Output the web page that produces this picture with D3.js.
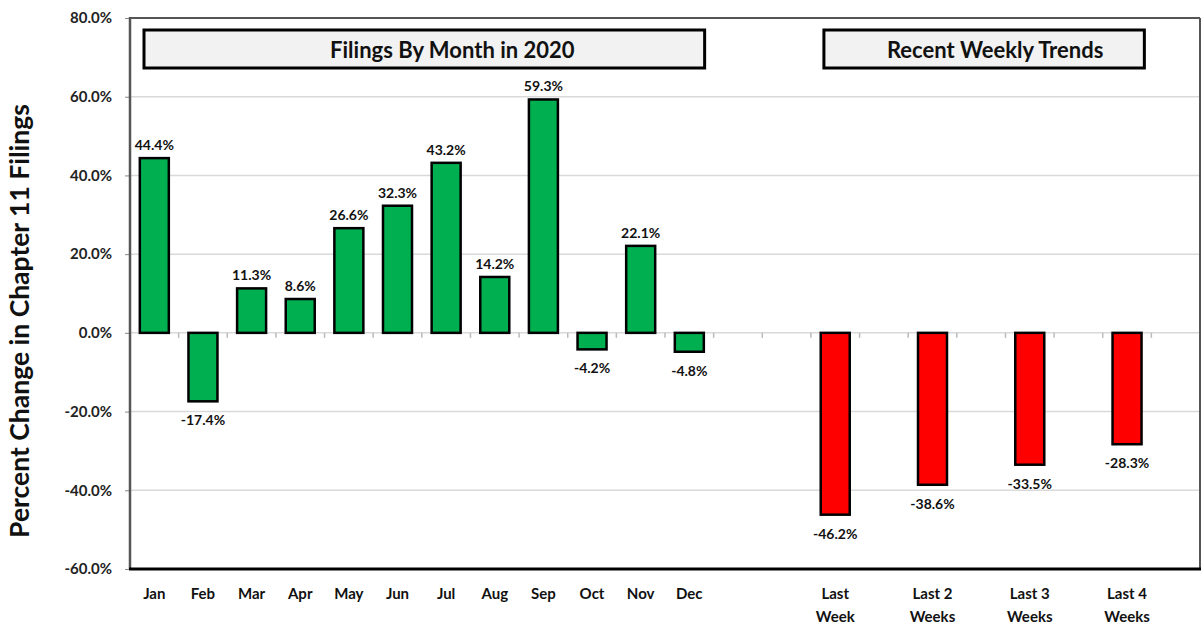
<!DOCTYPE html>
<html><head><meta charset="utf-8">
<script src="https://cdn.jsdelivr.net/npm/d3@7/dist/d3.min.js"></script>
<style>body{margin:0;background:#fff}svg{display:block;font-family:Lato,"Open Sans",sans-serif}</style>
</head><body>
<svg id="c" width="1201" height="629"></svg>
<script>
const monthCats = ["Jan","Feb","Mar","Apr","May","Jun","Jul","Aug","Sep","Oct","Nov","Dec"];
const monthVals = [44.4,-17.4,11.3,8.6,26.6,32.3,43.2,14.2,59.3,-4.2,22.1,-4.8];
const weekCats = ["Last Week","Last 2 Weeks","Last 3 Weeks","Last 4 Weeks"];
const weekVals = [-46.2,-38.6,-33.5,-28.3];
const yTicks = [-60,-40,-20,0,20,40,60,80];
const sectionTitles = ["Filings By Month in 2020","Recent Weekly Trends"];
const yTitle = "Percent Change in Chapter 11 Filings";

// category slots: 12 months, 2 gaps, weekly bars separated by gaps
const slots = [...monthCats, "_g1", "_g2", "Last Week", "_g3", "Last 2 Weeks", "_g4", "Last 3 Weeks", "_g5", "Last 4 Weeks", "_g6"];
const data = monthCats.map((c,i)=>({cat:c,v:monthVals[i],color:"#00B050"}))
  .concat(weekCats.map((c,i)=>({cat:c,v:weekVals[i],color:"#FF0000"})));

const svg = d3.select("#c");
const L=130, R=1200, T=18, B=569;
const x = d3.scaleBand().domain(slots).range([L,R]).paddingInner(0).paddingOuter(0);
const y = d3.scaleLinear().domain([-60,80]).range([B,T]);
const barW = 29;

// gridlines
svg.append("g").selectAll("line").data(yTicks).join("line")
  .attr("x1",L).attr("x2",R).attr("y1",d=>y(d)).attr("y2",d=>y(d))
  .attr("stroke","#d9d9d9").attr("stroke-width",1.5);

// y axis
const yAxis = d3.axisLeft(y).tickValues(yTicks).tickSize(5).tickPadding(13)
  .tickFormat(d=>d.toFixed(1)+"%");
const ga = svg.append("g").attr("transform",`translate(${L},0)`).call(yAxis);
ga.select(".domain").remove();
ga.selectAll(".tick line").attr("stroke","#888");
ga.selectAll("text").attr("font-size",15).attr("font-weight","bold").attr("fill","#222").attr("font-family","Lato");

// x category ticks at zero line
const bounds = slots.map(s=>x(s)).slice(1);
svg.append("g").selectAll("line").data(bounds).join("line")
  .attr("x1",d=>d).attr("x2",d=>d).attr("y1",y(0)).attr("y2",y(0)+5)
  .attr("stroke","#bbb").attr("stroke-width",1.5);

// bars
svg.append("g").selectAll("rect").data(data).join("rect")
  .attr("x",d=>x(d.cat)+x.bandwidth()/2-barW/2)
  .attr("width",barW)
  .attr("y",d=>y(Math.max(0,d.v)))
  .attr("height",d=>Math.abs(y(d.v)-y(0)))
  .attr("fill",d=>d.color).attr("stroke","#000").attr("stroke-width",2.5);

// data labels
svg.append("g").selectAll("text").data(data).join("text")
  .attr("x",d=>x(d.cat)+x.bandwidth()/2)
  .attr("y",d=>d.v>=0? y(d.v)-8 : y(d.v)+24)
  .attr("text-anchor","middle").attr("font-size",14).attr("font-weight","bold").attr("fill","#111")
  .text(d=>d.v.toFixed(1)+"%");

// frame
svg.append("line").attr("x1",L).attr("x2",R).attr("y1",T).attr("y2",T).attr("stroke","#555").attr("stroke-width",2);
svg.append("line").attr("x1",R).attr("x2",R).attr("y1",T).attr("y2",B).attr("stroke","#555").attr("stroke-width",2);
svg.append("line").attr("x1",L).attr("x2",L).attr("y1",T-1).attr("y2",B).attr("stroke","#555").attr("stroke-width",2.5);
svg.append("line").attr("x1",L-1).attr("x2",R+1).attr("y1",B).attr("y2",B).attr("stroke","#000").attr("stroke-width",3);

// x labels
const xl = svg.append("g");
slots.filter(s=>!s.startsWith("_")).forEach(s=>{
  const words = s.startsWith("Last") ? (s==="Last Week"?["Last","Week"]:[s.slice(0,s.lastIndexOf(" ")), s.slice(s.lastIndexOf(" ")+1)]) : [s];
  const t = xl.append("text").attr("x",x(s)+x.bandwidth()/2).attr("y",599)
    .attr("text-anchor","middle").attr("font-size",15).attr("font-weight","bold").attr("fill","#111");
  words.forEach((w,i)=>t.append("tspan").attr("x",x(s)+x.bandwidth()/2).attr("dy",i===0?0:23).text(w));
});

// section title boxes
const boxes = [
  {t:sectionTitles[0], x0:x("Jan")+14, x1:x("Dec")+x.bandwidth()-9, dx:28},
  {t:sectionTitles[1], x0:x("Last Week")+13, x1:x("_g6")-7, dx:11}
];
const gb = svg.append("g");
boxes.forEach(b=>{
  gb.append("rect").attr("x",b.x0).attr("y",30).attr("width",b.x1-b.x0).attr("height",38)
    .attr("fill","#f2f2f2").attr("stroke","#000").attr("stroke-width",3);
  gb.append("text").attr("x",(b.x0+b.x1)/2+b.dx).attr("y",58).attr("text-anchor","middle")
    .attr("font-size",22).attr("font-weight","bold").attr("fill","#111").text(b.t);
});

// y title
svg.append("text").attr("transform",`translate(29,321) rotate(-90)`)
  .attr("text-anchor","middle").attr("font-size",26.5).attr("font-weight","bold").attr("fill","#111").text(yTitle);
</script>
</body></html>
